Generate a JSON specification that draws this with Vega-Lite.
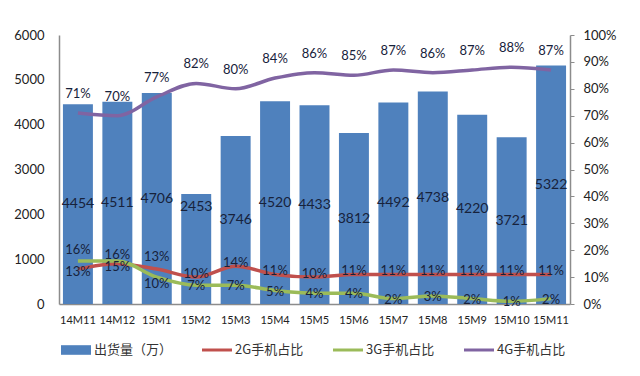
{
  "$schema": "https://vega.github.io/schema/vega-lite/v6.json",
  "width": 511,
  "height": 269,
  "autosize": "none",
  "padding": {"left": 59, "top": 35, "right": 70, "bottom": 72},
  "background": "white",
  "config": {"view": {"stroke": null}, "font": "Lato"},
  "datasets": {
    "ship": [
      {"month": "14M11", "shipment": 4454},
      {"month": "14M12", "shipment": 4511},
      {"month": "15M1", "shipment": 4706},
      {"month": "15M2", "shipment": 2453},
      {"month": "15M3", "shipment": 3746},
      {"month": "15M4", "shipment": 4520},
      {"month": "15M5", "shipment": 4433},
      {"month": "15M6", "shipment": 3812},
      {"month": "15M7", "shipment": 4492},
      {"month": "15M8", "shipment": 4738},
      {"month": "15M9", "shipment": 4220},
      {"month": "15M10", "shipment": 3721},
      {"month": "15M11", "shipment": 5322}
    ],
    "share": [
      {"month": "14M11", "series": "2G手机占比", "share": 0.13},
      {"month": "14M12", "series": "2G手机占比", "share": 0.15},
      {"month": "15M1", "series": "2G手机占比", "share": 0.13},
      {"month": "15M2", "series": "2G手机占比", "share": 0.10},
      {"month": "15M3", "series": "2G手机占比", "share": 0.14},
      {"month": "15M4", "series": "2G手机占比", "share": 0.11},
      {"month": "15M5", "series": "2G手机占比", "share": 0.10},
      {"month": "15M6", "series": "2G手机占比", "share": 0.11},
      {"month": "15M7", "series": "2G手机占比", "share": 0.11},
      {"month": "15M8", "series": "2G手机占比", "share": 0.11},
      {"month": "15M9", "series": "2G手机占比", "share": 0.11},
      {"month": "15M10", "series": "2G手机占比", "share": 0.11},
      {"month": "15M11", "series": "2G手机占比", "share": 0.11},
      {"month": "14M11", "series": "3G手机占比", "share": 0.16},
      {"month": "14M12", "series": "3G手机占比", "share": 0.16},
      {"month": "15M1", "series": "3G手机占比", "share": 0.10},
      {"month": "15M2", "series": "3G手机占比", "share": 0.07},
      {"month": "15M3", "series": "3G手机占比", "share": 0.07},
      {"month": "15M4", "series": "3G手机占比", "share": 0.05},
      {"month": "15M5", "series": "3G手机占比", "share": 0.04},
      {"month": "15M6", "series": "3G手机占比", "share": 0.04},
      {"month": "15M7", "series": "3G手机占比", "share": 0.02},
      {"month": "15M8", "series": "3G手机占比", "share": 0.03},
      {"month": "15M9", "series": "3G手机占比", "share": 0.02},
      {"month": "15M10", "series": "3G手机占比", "share": 0.01},
      {"month": "15M11", "series": "3G手机占比", "share": 0.02},
      {"month": "14M11", "series": "4G手机占比", "share": 0.71},
      {"month": "14M12", "series": "4G手机占比", "share": 0.70},
      {"month": "15M1", "series": "4G手机占比", "share": 0.77},
      {"month": "15M2", "series": "4G手机占比", "share": 0.82},
      {"month": "15M3", "series": "4G手机占比", "share": 0.80},
      {"month": "15M4", "series": "4G手机占比", "share": 0.84},
      {"month": "15M5", "series": "4G手机占比", "share": 0.86},
      {"month": "15M6", "series": "4G手机占比", "share": 0.85},
      {"month": "15M7", "series": "4G手机占比", "share": 0.87},
      {"month": "15M8", "series": "4G手机占比", "share": 0.86},
      {"month": "15M9", "series": "4G手机占比", "share": 0.87},
      {"month": "15M10", "series": "4G手机占比", "share": 0.88},
      {"month": "15M11", "series": "4G手机占比", "share": 0.87}
    ]
  },
  "encoding": {
    "x": {
      "field": "month",
      "type": "ordinal",
      "sort": null,
      "scale": {"paddingInner": 0.24, "paddingOuter": 0.1},
      "axis": {
        "title": null,
        "labelAngle": 0,
        "ticks": false,
        "domainColor": "#8c8c8c",
        "domainWidth": 1.5,
        "labelFont": "Lato",
        "labelFontSize": 11,
        "labelColor": "#222",
        "labelPadding": 10
      }
    }
  },
  "layer": [
    {
      "data": {"name": "ship"},
      "mark": {"type": "bar"},
      "encoding": {
        "y": {
          "field": "shipment",
          "type": "quantitative",
          "scale": {"domain": [0, 6000]},
          "axis": {
            "title": null,
            "format": "d",
            "values": [0, 1000, 2000, 3000, 4000, 5000, 6000],
            "grid": false,
            "ticks": false,
            "domainColor": "#8c8c8c",
            "domainWidth": 1.5,
            "labelFont": "Lato",
            "labelFontSize": 13,
            "labelColor": "#222",
            "labelPadding": 15
          }
        },
        "color": {
          "datum": "出货量（万）",
          "type": "nominal",
          "scale": {
            "domain": ["出货量（万）", "2G手机占比", "3G手机占比", "4G手机占比"],
            "range": ["#4F81BD", "#C0504D", "#9BBB59", "#8064A2"]
          },
          "legend": {
            "orient": "none",
            "legendX": 2,
            "legendY": 300,
            "direction": "horizontal",
            "title": null,
            "labelFont": "Noto Sans CJK SC",
            "labelFontSize": 13,
            "labelColor": "#333",
            "symbolSize": 900,
            "columnPadding": 29,
            "labelOffset": 3,
            "encode": {
              "symbols": {
                "update": {
                  "shape": {"signal": "datum.value === '出货量（万）' ? 'M-1,-0.32H1V0.32H-1Z' : 'M-1,-0.1H1V0.1H-1Z'"},
                  "fill": {"scale": "color", "field": "value"},
                  "stroke": {"value": "transparent"},
                  "strokeWidth": {"value": 0},
                  "opacity": {"value": 1},
                  "fillOpacity": {"value": 1}
                }
              }
            }
          }
        }
      }
    },
    {
      "data": {"name": "ship"},
      "transform": [{"filter": "datum.month !== '15M2'"}],
      "mark": {"type": "text", "baseline": "middle", "font": "Lato", "fontSize": 14, "color": "#17223b"},
      "encoding": {
        "y": {"field": "shipment", "type": "quantitative", "scale": {"domain": [0, 12000]}, "axis": null},
        "text": {"field": "shipment", "type": "quantitative", "format": "d"}
      }
    },
    {
      "data": {"name": "ship"},
      "transform": [{"filter": "datum.month === '15M2'"}],
      "mark": {"type": "text", "baseline": "middle", "font": "Lato", "fontSize": 14, "color": "#17223b"},
      "encoding": {
        "y": {"field": "shipment", "type": "quantitative", "scale": {"domain": [0, 6800]}, "axis": null},
        "text": {"field": "shipment", "type": "quantitative", "format": "d"}
      }
    },
    {
      "data": {"name": "share"},
      "mark": {"type": "line", "interpolate": "monotone", "strokeWidth": 3.5},
      "encoding": {
        "y": {
          "field": "share",
          "type": "quantitative",
          "scale": {"domain": [0, 1]},
          "axis": {
            "orient": "right",
            "title": null,
            "format": ".0%",
            "values": [0, 0.1, 0.2, 0.3, 0.4, 0.5, 0.6, 0.7, 0.8, 0.9, 1],
            "grid": false,
            "ticks": true,
            "tickSize": 4,
            "tickColor": "#8c8c8c",
            "domainColor": "#8c8c8c",
            "domainWidth": 1.5,
            "labelFont": "Lato",
            "labelFontSize": 13,
            "labelColor": "#222",
            "labelPadding": 9
          }
        },
        "color": {
          "field": "series",
          "type": "nominal",
          "legend": {
            "orient": "none",
            "legendX": 2,
            "legendY": 300,
            "direction": "horizontal",
            "title": null,
            "labelFont": "Noto Sans CJK SC",
            "labelFontSize": 13,
            "labelColor": "#333",
            "symbolSize": 900,
            "columnPadding": 29,
            "labelOffset": 3,
            "encode": {
              "symbols": {
                "update": {
                  "shape": {"signal": "datum.value === '出货量（万）' ? 'M-1,-0.32H1V0.32H-1Z' : 'M-1,-0.1H1V0.1H-1Z'"},
                  "fill": {"scale": "color", "field": "value"},
                  "stroke": {"value": "transparent"},
                  "strokeWidth": {"value": 0},
                  "opacity": {"value": 1},
                  "fillOpacity": {"value": 1}
                }
              }
            }
          }
        }
      }
    },
    {
      "data": {"name": "share"},
      "transform": [{"filter": "datum.series === '4G手机占比'"}],
      "mark": {"type": "text", "baseline": "middle", "dy": -19, "font": "Lato", "fontSize": 13, "color": "#17223b"},
      "encoding": {
        "y": {"field": "share", "type": "quantitative", "scale": {"domain": [0, 1]}, "axis": null},
        "text": {"field": "share", "type": "quantitative", "format": ".0%"}
      }
    },
    {
      "data": {"name": "share"},
      "transform": [{"filter": "datum.series === '2G手机占比' && datum.month !== '14M11' && datum.month !== '14M12' && datum.month !== '15M1'"}],
      "mark": {"type": "text", "baseline": "middle", "dy": -3, "font": "Lato", "fontSize": 13, "color": "#17223b"},
      "encoding": {
        "y": {"field": "share", "type": "quantitative", "scale": {"domain": [0, 1]}, "axis": null},
        "text": {"field": "share", "type": "quantitative", "format": ".0%"}
      }
    },
    {
      "data": {"name": "share"},
      "transform": [{"filter": "datum.series === '2G手机占比' && (datum.month === '14M11' || datum.month === '14M12')"}],
      "mark": {"type": "text", "baseline": "middle", "dy": 3, "font": "Lato", "fontSize": 13, "color": "#17223b"},
      "encoding": {
        "y": {"field": "share", "type": "quantitative", "scale": {"domain": [0, 1]}, "axis": null},
        "text": {"field": "share", "type": "quantitative", "format": ".0%"}
      }
    },
    {
      "data": {"name": "share"},
      "transform": [{"filter": "datum.series === '2G手机占比' && datum.month === '15M1'"}],
      "mark": {"type": "text", "baseline": "middle", "dy": -12, "font": "Lato", "fontSize": 13, "color": "#17223b"},
      "encoding": {
        "y": {"field": "share", "type": "quantitative", "scale": {"domain": [0, 1]}, "axis": null},
        "text": {"field": "share", "type": "quantitative", "format": ".0%"}
      }
    },
    {
      "data": {"name": "share"},
      "transform": [{"filter": "datum.series === '3G手机占比' && datum.month !== '14M11' && datum.month !== '14M12' && datum.month !== '15M1'"}],
      "mark": {"type": "text", "baseline": "middle", "dy": 1, "font": "Lato", "fontSize": 13, "color": "#17223b"},
      "encoding": {
        "y": {"field": "share", "type": "quantitative", "scale": {"domain": [0, 1]}, "axis": null},
        "text": {"field": "share", "type": "quantitative", "format": ".0%"}
      }
    },
    {
      "data": {"name": "share"},
      "transform": [{"filter": "datum.series === '3G手机占比' && datum.month === '14M11'"}],
      "mark": {"type": "text", "baseline": "middle", "dy": -11, "font": "Lato", "fontSize": 13, "color": "#17223b"},
      "encoding": {
        "y": {"field": "share", "type": "quantitative", "scale": {"domain": [0, 1]}, "axis": null},
        "text": {"field": "share", "type": "quantitative", "format": ".0%"}
      }
    },
    {
      "data": {"name": "share"},
      "transform": [{"filter": "datum.series === '3G手机占比' && datum.month === '14M12'"}],
      "mark": {"type": "text", "baseline": "middle", "dy": -6, "font": "Lato", "fontSize": 13, "color": "#17223b"},
      "encoding": {
        "y": {"field": "share", "type": "quantitative", "scale": {"domain": [0, 1]}, "axis": null},
        "text": {"field": "share", "type": "quantitative", "format": ".0%"}
      }
    },
    {
      "data": {"name": "share"},
      "transform": [{"filter": "datum.series === '3G手机占比' && datum.month === '15M1'"}],
      "mark": {"type": "text", "baseline": "middle", "dy": 7, "font": "Lato", "fontSize": 13, "color": "#17223b"},
      "encoding": {
        "y": {"field": "share", "type": "quantitative", "scale": {"domain": [0, 1]}, "axis": null},
        "text": {"field": "share", "type": "quantitative", "format": ".0%"}
      }
    }
  ],
  "resolve": {"scale": {"y": "independent"}}
}
